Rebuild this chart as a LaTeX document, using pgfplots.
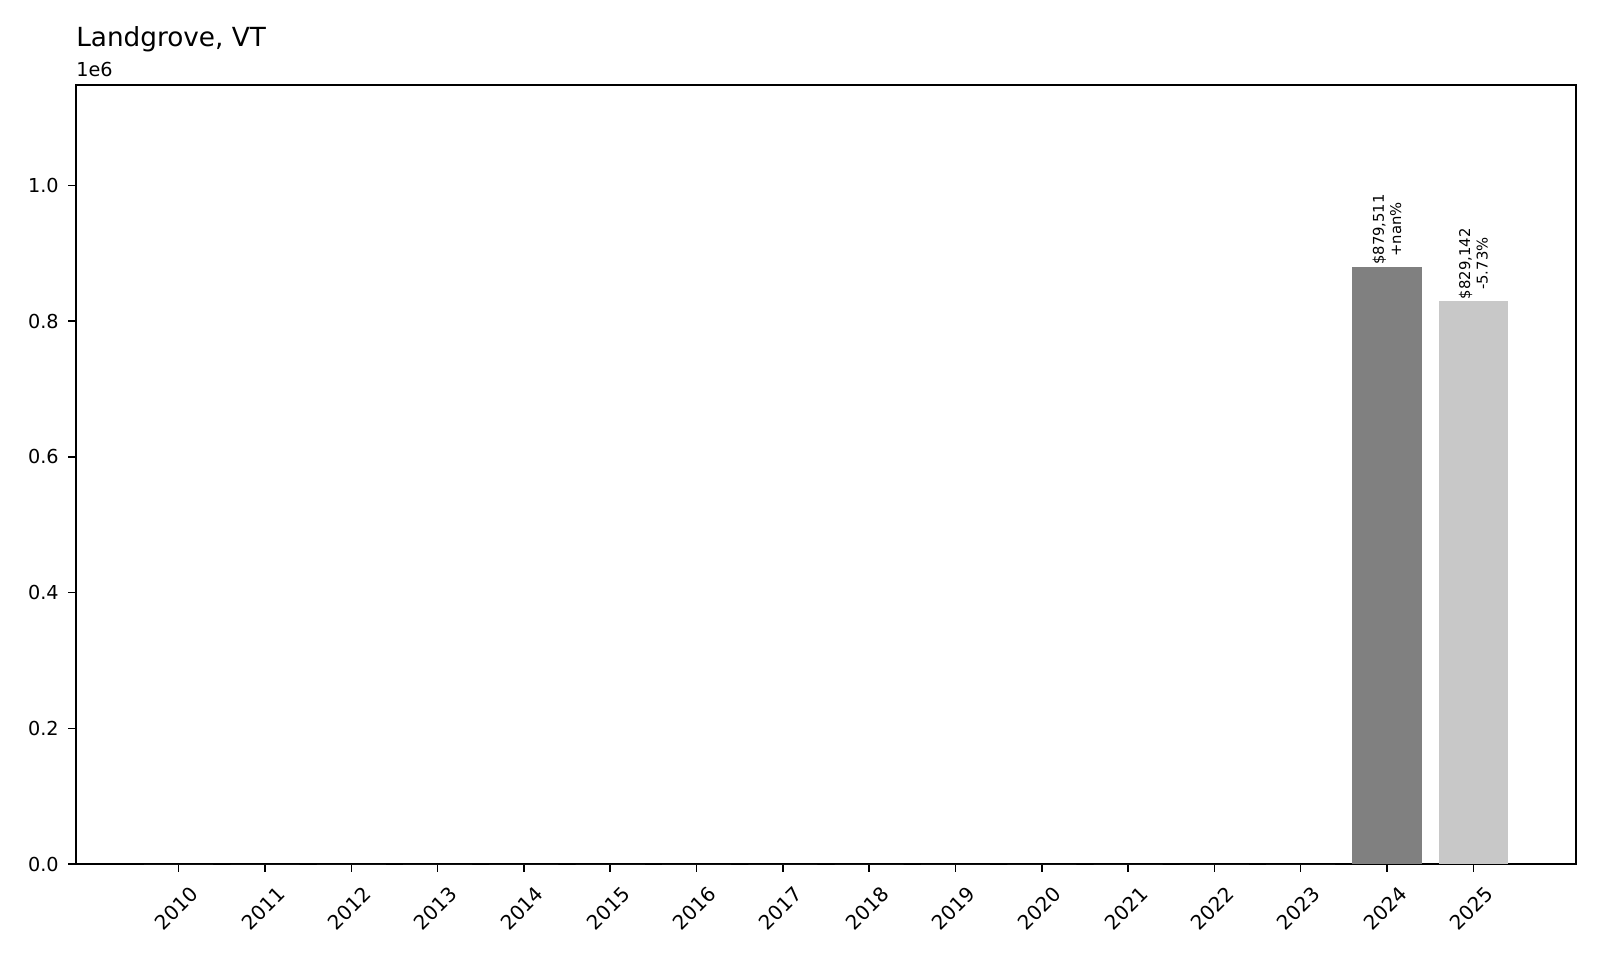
\documentclass[border=0pt]{standalone}
\usepackage{fontspec}
\setmainfont{DejaVu Sans}
\usepackage{pgfplots}
\pgfplotsset{compat=1.18}

\definecolor{bardark}{RGB}{128,128,128}
\definecolor{barlight}{RGB}{200,200,200}

\begin{document}
\begin{tikzpicture}
\begin{axis}[
  scale only axis,
  width=1080bp, height=560.88bp,
  xmin=-1.19, xmax=16.19,
  ymin=0, ymax=1148000,
  axis line style={black, line width=1.08bp},
  tick pos=left,
  tick align=outside,
  major tick length=5.5bp,
  tick style={black, line width=1.08bp},
  xtick={0,...,15},
  xticklabels={2010,2011,2012,2013,2014,2015,2016,2017,2018,2019,2020,2021,2022,2023,2024,2025},
  ytick={0,200000,400000,600000,800000,1000000},
  yticklabels={0.0,0.2,0.4,0.6,0.8,1.0},
  scaled y ticks=false,
  /pgf/number format/assume math mode=true,
  tick label style={font=\fontsize{13.9}{16}\selectfont},
  xticklabel style={font=\fontsize{14.4}{16}\selectfont, xshift=-1.5bp, yshift=-26.5bp, rotate=45, anchor=center},
  yticklabel style={xshift=-3.5bp},
  clip=false,
  nodes near coords style={font=\fontsize{10.7}{12.6}\selectfont, rotate=90, anchor=west, align=center, inner sep=1.5bp},
]
% years with no value
\addplot[ybar, bar width=0.8, fill=bardark, draw=none] coordinates {
  (0,0) (1,0) (2,0) (3,0) (4,0) (5,0) (6,0) (7,0)
  (8,0) (9,0) (10,0) (11,0) (12,0) (13,0)
};
\addplot[ybar, bar width=0.8, fill=bardark, draw=none,
  point meta=explicit symbolic, nodes near coords] coordinates {
  (14,879511) [{\$879,511\\+nan\%}]
};
\addplot[ybar, bar width=0.8, fill=barlight, draw=none,
  point meta=explicit symbolic, nodes near coords] coordinates {
  (15,829142) [{\$829,142\\-5.73\%}]
};
\node[anchor=base west, inner sep=0, font=\fontsize{19}{22}\selectfont]
  at ([yshift=27.6bp]rel axis cs:0,1) {Landgrove, VT};
\node[anchor=base west, inner sep=0, font=\fontsize{13.9}{16}\selectfont]
  at ([yshift=5.8bp]rel axis cs:0,1) {1e6};
\end{axis}
\path[use as bounding box]
  ([xshift=-54.72bp,yshift=-69.12bp]current axis.south west)
  rectangle ([xshift=17.28bp,yshift=61.2bp]current axis.north east);
\end{tikzpicture}
\end{document}
